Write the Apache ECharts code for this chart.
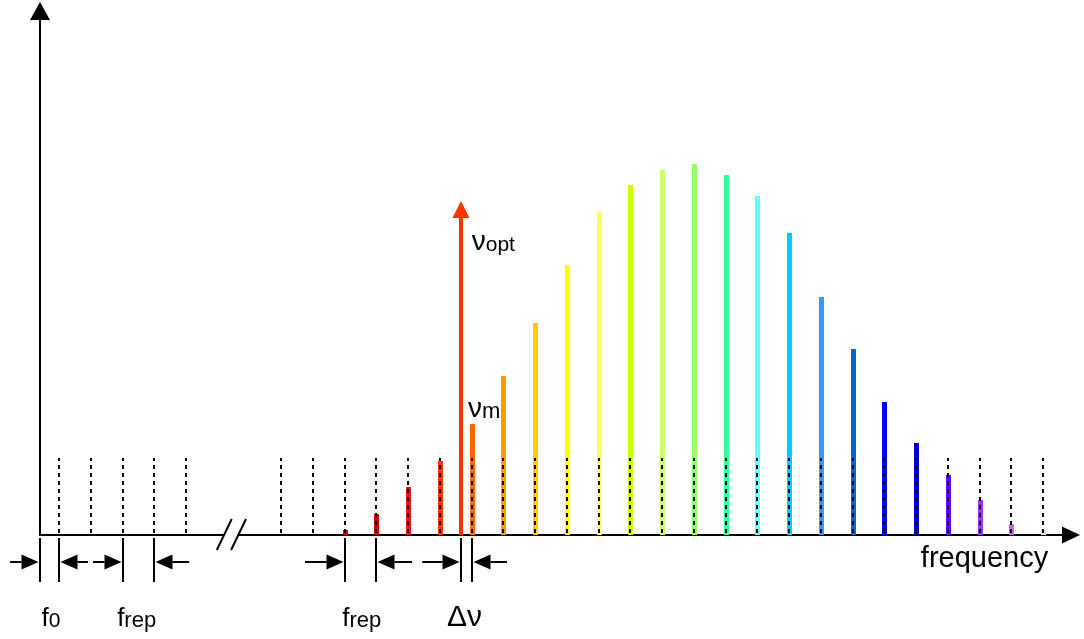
<!DOCTYPE html>
<html>
<head>
<meta charset="utf-8">
<script src="https://cdn.jsdelivr.net/npm/echarts@6/dist/echarts.min.js"></script>
<style>
html,body{margin:0;padding:0;background:#fff;}
#chart{width:1084px;height:639px;}
</style>
</head>
<body>
<div id="chart"></div>
<script>
// ---- data ----
// comb mode positions (in units of f_rep, mode index)
const combModes = [0, 1, 2, 3, 4, 7, 8, 9, 10, 11, 12, 13, 14, 15, 16, 17, 18, 19, 20, 21, 22, 23, 24, 25, 26, 27, 28, 29, 30, 31];
const combHeight = 77;
// generated spectral lines
const lineModes = [9, 10, 11, 12, 13, 14, 15, 16, 17, 18, 19, 20, 21, 22, 23, 24, 25, 26, 27, 28, 29, 30, 31];
const lineAmps = [5, 21, 48, 74, 111, 159, 212, 270, 323, 350, 365, 371, 360, 339, 302, 238, 186, 133, 92, 60, 35, 11, 5];
const lineColors = ['#cc0000', '#d00000', '#ee1111', '#ff3300', '#ff6600', '#ff9900', '#ffcc00', '#ffff00', '#ffff66', '#ccff00', '#ccff66', '#99ff66', '#33ff99', '#66ffff', '#00ccff', '#3399ff', '#0066cc', '#0000ff', '#0000cc', '#6600ff', '#9933ff', '#cc66ff', '#ffccff'];
// optical carrier
const optPos = [12.65];
const optHeight = [334];
// dimension markers below the axis: [tick position, tail position]
const markerTicks = [-0.6, 0, 2, 3, 9, 10, 12.65, 13];
const markerTails = [-1.54, 0.91, 1.07, 4.1, 7.75, 11.12, 11.44, 14.11];
// axis break
const breakPos = [4.97, 5.42];
// labels
const labelX = [13.0, 12.88, -0.55, 1.83, 8.92, 12.22, 27.15];
const labelY = [279, 112, -97, -97, -97, -98, -38];
const labelMain = ['ν', 'ν', 'f', 'f', 'f', 'Δν', 'frequency'];
const labelSub = ['opt', 'm', '0', 'rep', 'rep', '', ''];
const labelMainSize = [28, 28, 26, 26, 26, 30, 29];
const labelSubSize = [21, 22, 21, 22, 22, 20, 20];

const chart = echarts.init(document.getElementById('chart'), null, {renderer: 'canvas'});
const FONT = "'Liberation Sans', Arial, sans-serif";

function combItem(params, api) {
  const x = api.value(0);
  const p0 = api.coord([x, 0]);
  const p1 = api.coord([x, combHeight]);
  const px = Math.round(p0[0]);
  return {
    type: 'line',
    shape: {x1: px, y1: p0[1] - 2, x2: px, y2: p1[1]},
    style: {stroke: '#000', lineWidth: 2, lineDash: [4, 4]}
  };
}

function lineItem(params, api) {
  const x = api.value(0), a = api.value(1);
  const p0 = api.coord([x, 0]);
  const p1 = api.coord([x, a]);
  return {
    type: 'rect',
    shape: {x: Math.round(p0[0]) - 2, y: Math.round(p1[1]), width: 5, height: p0[1] - Math.round(p1[1])},
    style: {fill: lineColors[params.dataIndex]}
  };
}

function optItem(params, api) {
  const x = api.value(0), h = api.value(1);
  const p0 = api.coord([x, 0]);
  const tip = api.coord([x, h]);
  const cx = Math.round(p0[0]);
  const base = tip[1] + 17;
  return {
    type: 'group',
    children: [
      {type: 'rect', shape: {x: cx - 2, y: base - 1, width: 4, height: p0[1] - base + 1}, style: {fill: '#ff3300'}},
      {type: 'polygon', shape: {points: [[cx, tip[1]], [cx - 8.5, base], [cx + 8.5, base]]}, style: {fill: '#ff3300'}}
    ]
  };
}

function markerItem(params, api) {
  const t = api.value(0), tail = api.value(1);
  const top = api.coord([t, -3]);
  const bot = api.coord([t, -47]);
  const mid = api.coord([t, -27]);
  const tl = api.coord([tail, -27]);
  const tx = Math.round(top[0]);
  const my = Math.round(mid[1]);
  const dir = tl[0] < tx ? 1 : -1; // arrow pointing toward the tick
  const tipX = tx - dir * 1.5;
  const baseX = tipX - dir * 17;
  return {
    type: 'group',
    children: [
      {type: 'line', shape: {x1: tx, y1: top[1], x2: tx, y2: bot[1]}, style: {stroke: '#000', lineWidth: 2}},
      {type: 'line', shape: {x1: tl[0], y1: my, x2: baseX, y2: my}, style: {stroke: '#000', lineWidth: 2}},
      {type: 'polygon', shape: {points: [[tipX, my], [baseX, my - 7.5], [baseX, my + 7.5]]}, style: {fill: '#000'}}
    ]
  };
}

function breakItem(params, api) {
  const a = breakPos[0], b = breakPos[1];
  const g1 = api.coord([a + 0.23, 0]);
  const g2 = api.coord([b + 0.21, 0]);
  const children = [
    {type: 'rect', shape: {x: g1[0], y: g1[1] - 3, width: g2[0] - g1[0], height: 6}, style: {fill: '#fff'}}
  ];
  [a, b].forEach(function (s) {
    const p0 = api.coord([s, -15]);
    const p1 = api.coord([s + 0.47, 16]);
    children.push({type: 'line', shape: {x1: p0[0], y1: p0[1], x2: p1[0], y2: p1[1]}, style: {stroke: '#000', lineWidth: 2}});
  });
  return {type: 'group', children: children};
}

function labelItem(params, api) {
  const i = params.dataIndex;
  const p = api.coord([api.value(0), api.value(1)]);
  const txt = '{a|' + labelMain[i] + '}' + (labelSub[i] ? '{b|' + labelSub[i] + '}' : '');
  return {
    type: 'text',
    x: p[0], y: p[1],
    style: {
      text: txt,
      align: 'left',
      verticalAlign: 'bottom',
      fill: '#000',
      rich: {
        a: {fontSize: labelMainSize[i], fontFamily: FONT, fill: '#000', verticalAlign: 'bottom'},
        b: {fontSize: labelSubSize[i], fontFamily: FONT, fill: '#000', verticalAlign: 'bottom'}
      }
    }
  };
}

const option = {
  animation: false,
  backgroundColor: '#fff',
  grid: {left: 40, right: 13, top: 11, bottom: 104, containLabel: false},
  xAxis: {
    type: 'value', min: -0.6, max: 31.88,
    axisLine: {onZero: false, lineStyle: {color: '#000', width: 2}, symbol: ['none', 'triangle'], symbolSize: [17, 18]},
    axisTick: {show: false}, axisLabel: {show: false}, splitLine: {show: false}
  },
  yAxis: {
    type: 'value', min: 0, max: 524,
    axisLine: {show: true, onZero: false, lineStyle: {color: '#000', width: 2}, symbol: ['none', 'triangle'], symbolSize: [20, 18]},
    axisTick: {show: false}, axisLabel: {show: false}, splitLine: {show: false}
  },
  series: [
    {type: 'custom', clip: false, z: 3, renderItem: lineItem, data: lineModes.map((m, i) => [m, lineAmps[i]])},
    {type: 'custom', clip: false, z: 4, renderItem: combItem, data: combModes.map(m => [m])},
    {type: 'custom', clip: false, z: 5, renderItem: optItem, data: optPos.map((m, i) => [m, optHeight[i]])},
    {type: 'custom', clip: false, z: 5, renderItem: breakItem, data: [[breakPos[0], 0]]},
    {type: 'custom', clip: false, z: 5, renderItem: markerItem, data: markerTicks.map((m, i) => [m, markerTails[i]])},
    {type: 'custom', clip: false, z: 6, renderItem: labelItem, data: labelX.map((x, i) => [x, labelY[i]])}
  ]
};
chart.setOption(option);
</script>
</body>
</html>
